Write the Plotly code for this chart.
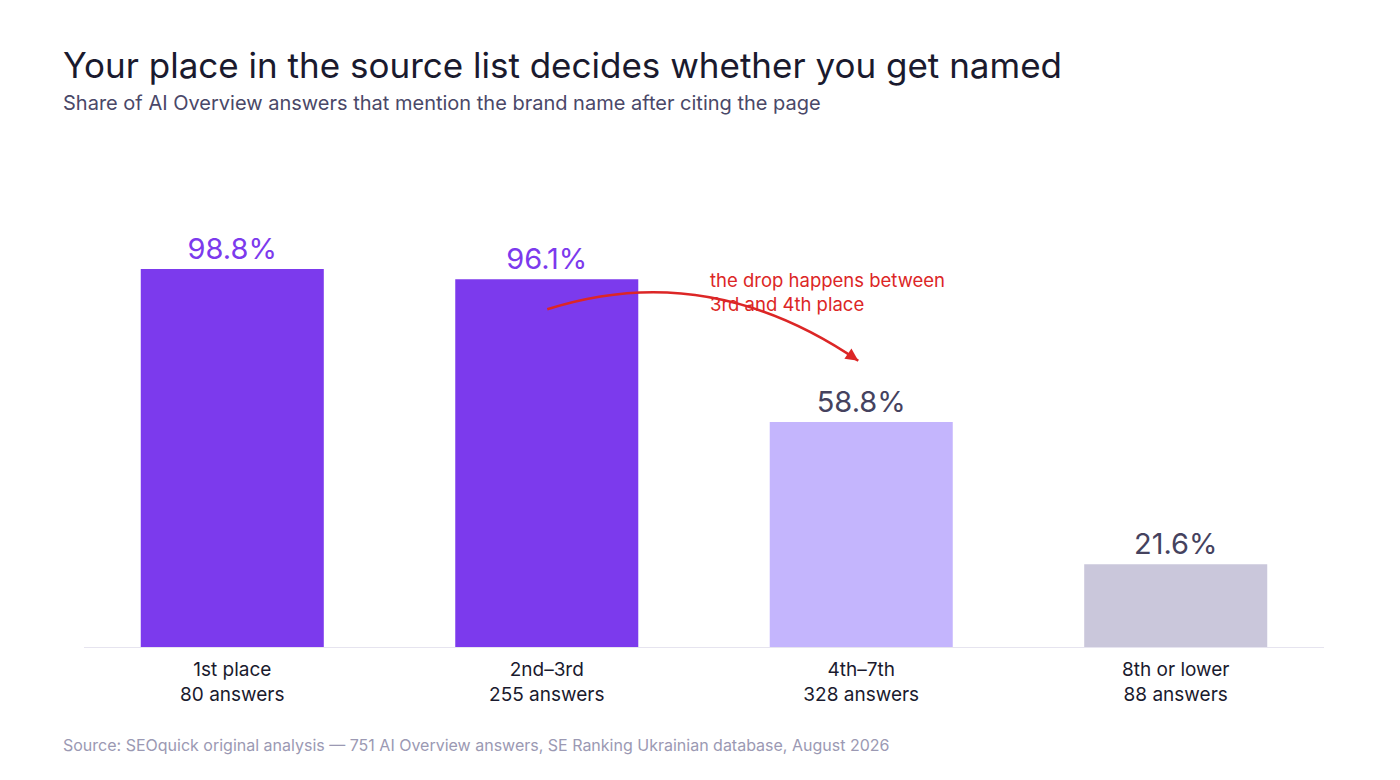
import plotly.graph_objects as go

# ---- data ----
categories = ["1st place", "2nd–3rd", "4th–7th", "8th or lower"]
answers = [80, 255, 328, 88]
share = [98.8, 96.1, 58.8, 21.6]

bar_colors = ["#7c3aed", "#7c3aed", "#c4b5fd", "#cac7db"]
label_colors = ["#7c3aed", "#7c3aed", "#45425e", "#45425e"]

FONT = "Inter, Noto Sans, sans-serif"

tick_text = [f"{c}<br>{n} answers" for c, n in zip(categories, answers)]
xs = list(range(len(categories)))

fig = go.Figure()
fig.add_trace(go.Bar(
    x=xs, y=share,
    width=0.582,
    marker=dict(color=bar_colors, line=dict(width=0)),
    text=[f"{v:.1f}%" for v in share],
    textposition="outside",
    textfont=dict(family=FONT, size=29, color=label_colors),
    cliponaxis=False,
    hoverinfo="skip",
))

# curved annotation arrow (quadratic bezier) between 2nd-3rd and 4th-7th
p0 = (1.0017, 88.26)
ctrl = (1.5126, 101.67)
p2 = (1.9905, 74.83)
fig.add_shape(
    type="path",
    path=f"M {p0[0]},{p0[1]} Q {ctrl[0]},{ctrl[1]} {p2[0]},{p2[1]}",
    xref="x", yref="y",
    line=dict(color="#dc2626", width=2.5),
)

annotations = [
    dict(x=p2[0], y=p2[1], xref="x", yref="y", ax=-11, ay=-7.5,
         axref="pixel", ayref="pixel", text="", showarrow=True,
         arrowhead=2, arrowsize=1, arrowwidth=2.5, arrowcolor="#dc2626",
         standoff=0),
    dict(x=1.5126, y=99.2, xref="x", yref="y", xanchor="left", yanchor="top",
         align="left", showarrow=False,
         text="the drop happens between<br>3rd and 4th place",
         font=dict(family=FONT, size=18.5, color="#dc2626")),
    dict(x=-0.0185, y=1.3227, xref="paper", yref="paper", xanchor="left",
         yanchor="middle", showarrow=False,
         text="Your place in the source list decides whether you get named",
         font=dict(family=FONT, size=35, color="#1a1a2e")),
    dict(x=-0.0185, y=1.236, xref="paper", yref="paper", xanchor="left",
         yanchor="middle", showarrow=False,
         text="Share of AI Overview answers that mention the brand name after citing the page",
         font=dict(family=FONT, size=20, color="#4a4868")),
    dict(x=-0.0185, y=-0.2227, xref="paper", yref="paper", xanchor="left",
         yanchor="middle", showarrow=False,
         text="Source: SEOquick original analysis — 751 AI Overview answers, SE Ranking Ukrainian database, August 2026",
         font=dict(family=FONT, size=16, color="#9b99b3")),
]

fig.update_layout(
    width=1400, height=780,
    margin=dict(l=76, r=84, t=199, b=141),
    paper_bgcolor="white", plot_bgcolor="white",
    showlegend=False,
    annotations=annotations,
    xaxis=dict(
        type="linear", range=[-0.4715, 3.4715],
        tickvals=xs, ticktext=tick_text,
        tickfont=dict(family=FONT, size=19, color="#1a1a2e"),
        ticklabelstandoff=5,
        showgrid=False, zeroline=False,
        showline=True, linecolor="#e6e4ef", linewidth=1,
        ticks="", fixedrange=True,
    ),
    yaxis=dict(range=[0, 115], visible=False, showgrid=False, zeroline=False,
               fixedrange=True),
)

fig.write_html("out.html")
